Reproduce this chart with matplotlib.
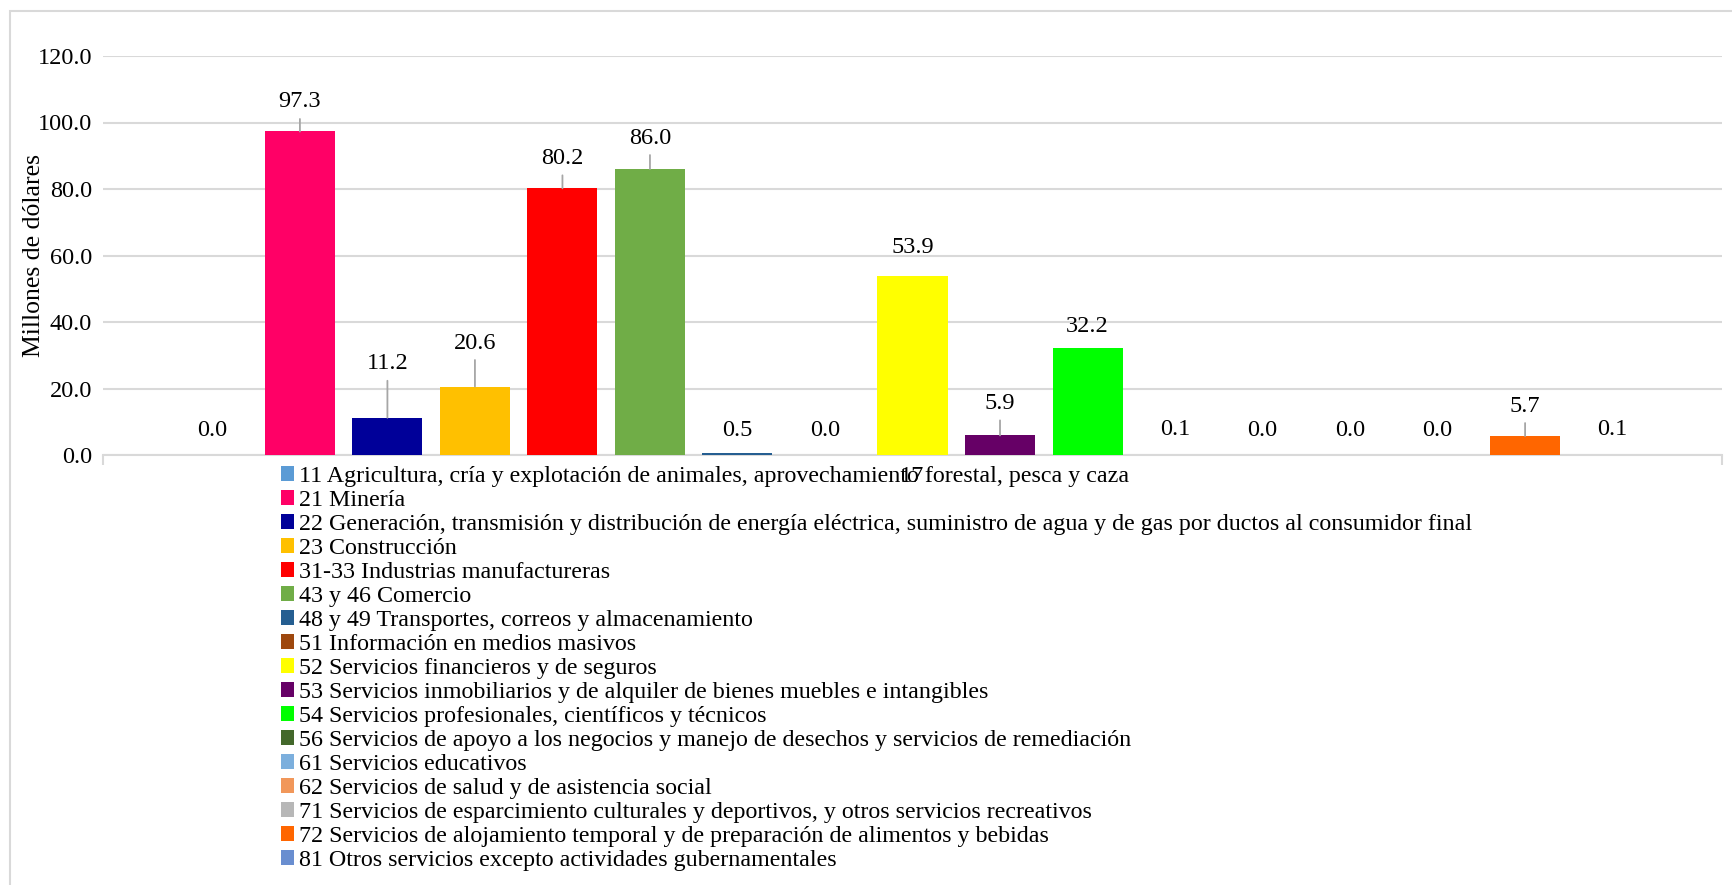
import matplotlib
matplotlib.use('Agg')
import matplotlib.pyplot as plt
from matplotlib.patches import Rectangle

plt.rcParams['font.family'] = ['Liberation Serif', 'DejaVu Serif']

sectores = [
    '11 Agricultura, cría y explotación de animales, aprovechamiento forestal, pesca y caza',
    '21 Minería',
    '22 Generación, transmisión y distribución de energía eléctrica, suministro de agua y de gas por ductos al consumidor final',
    '23 Construcción',
    '31-33 Industrias manufactureras',
    '43 y 46 Comercio',
    '48 y 49 Transportes, correos y almacenamiento',
    '51 Información en medios masivos',
    '52 Servicios financieros y de seguros',
    '53 Servicios inmobiliarios y de alquiler de bienes muebles e intangibles',
    '54 Servicios profesionales, científicos y técnicos',
    '56 Servicios de apoyo a los negocios y manejo de desechos y servicios de remediación',
    '61 Servicios educativos',
    '62 Servicios de salud y de asistencia social',
    '71 Servicios de esparcimiento culturales y deportivos, y otros servicios recreativos',
    '72 Servicios de alojamiento temporal y de preparación de alimentos y bebidas',
    '81 Otros servicios excepto actividades gubernamentales',
]
valores = [0.0, 97.3, 11.2, 20.6, 80.2, 86.0, 0.5, 0.0, 53.9, 5.9, 32.2, 0.1, 0.0, 0.0, 0.0, 5.7, 0.1]
categoria = '17'

colores = ['#5B9BD5', '#FF0066', '#000099', '#FFC000', '#FF0000', '#70AD47', '#255E91',
           '#9E480E', '#FFFF00', '#660066', '#00FF00', '#43682B', '#7CAFDD', '#F1975A',
           '#B7B7B7', '#FF6600', '#698ED0']

# desplazamiento de etiquetas (px sobre la barra) y si llevan linea guia
offset_px = [25, 29.5, 54, 43.5, 30, 31, 23, 25, 28, 32, 21, 25, 25, 25, 25, 30, 25]
guia = [False, True, True, True, True, True, False, False, False, True, False,
        False, False, False, False, True, False]

W, H = 1732, 885
fig = plt.figure(figsize=(W / 100, H / 100), dpi=100)
ax = fig.add_axes([103 / W, 1 - 455 / H, (1722 - 103) / W, (455 - 56) / H])

x = list(range(len(valores)))
ax.bar(x, valores, width=0.8, color=colores, label=sectores, zorder=3)

ax.set_xlim(-1.25, 17.25)
ax.set_ylim(0, 120)
ax.set_yticks(range(0, 121, 20))
ax.set_yticklabels(['%.1f' % v for v in range(0, 121, 20)], fontsize=17.5)
ax.yaxis.grid(True, color='#D9D9D9', linewidth=1.5, zorder=0)
ax.tick_params(axis='y', length=0, pad=8)
ax.set_xticks([8])
ax.set_xticklabels([categoria], fontsize=17.5)
ax.set_xticks([-1.25, 17.25], minor=True)
ax.tick_params(axis='x', which='major', length=0, pad=8)
ax.tick_params(axis='x', which='minor', length=7, width=1.5, color='#D9D9D9', direction='out')
for s in ['top', 'right', 'left']:
    ax.spines[s].set_visible(False)
ax.spines['bottom'].set_color('#D9D9D9')
ax.spines['bottom'].set_linewidth(1.5)

ax.set_ylabel('Millones de dólares', fontsize=18.5, labelpad=0)
ax.yaxis.set_label_coords(-0.036, 0.5)

# etiquetas de datos
for i, v in enumerate(valores):
    ax.annotate('%.1f' % v, xy=(i, v), xytext=(0, offset_px[i] * 0.72),
                textcoords='offset points', ha='center', va='center', fontsize=17.5, zorder=5)
    if guia[i]:
        ax.annotate('', xy=(i, v), xytext=(0, (offset_px[i] - 17) * 0.72),
                    textcoords='offset points',
                    arrowprops=dict(arrowstyle='-', color='#A6A6A6', lw=1.3,
                                    shrinkA=0, shrinkB=0))

leg = ax.legend(loc='upper left', bbox_to_anchor=(281 / W, 1 - 466 / H),
                bbox_transform=fig.transFigure, frameon=False, fontsize=17.25,
                handlelength=0.54, handleheight=0.54, handletextpad=0.2,
                labelspacing=0.125, borderpad=0, borderaxespad=0)
for t in leg.get_texts():
    t.set_color('#000000')

# borde del area del grafico
fig.patches.append(Rectangle((10 / W, -0.1), 1.2, 1 - 11 / H + 0.1, transform=fig.transFigure,
                             fill=False, edgecolor='#D9D9D9', linewidth=1.5))

fig.savefig('out.png', dpi=100)
